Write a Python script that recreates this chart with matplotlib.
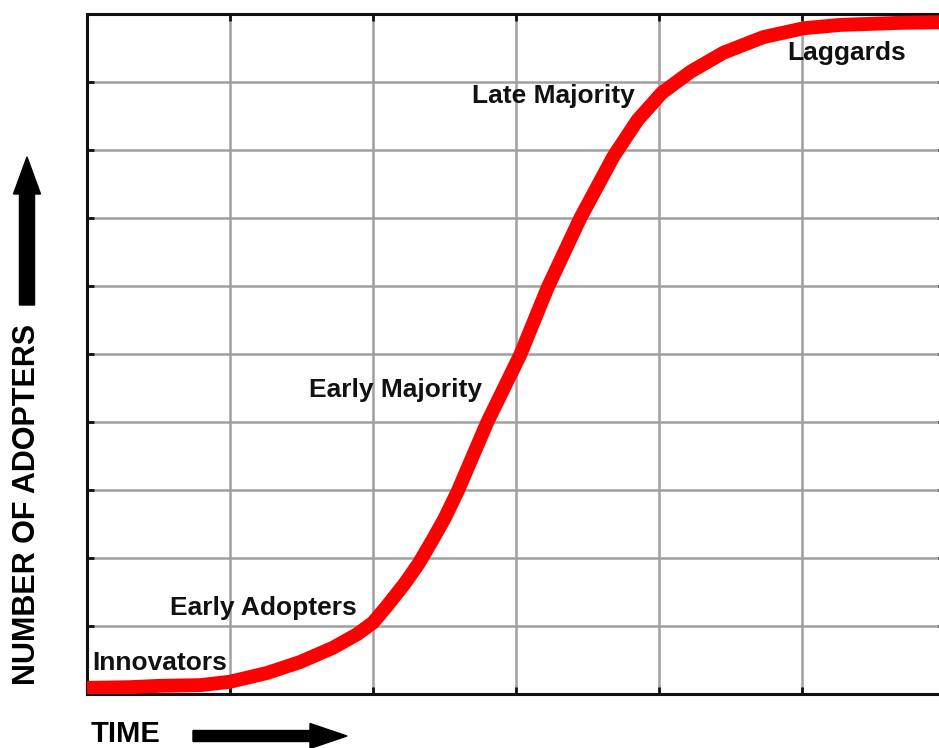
import matplotlib.pyplot as plt
from matplotlib.patches import FancyArrow

# adoption curve (x: 6 time units, y: 10 units)
time = [0.0, 0.30, 0.51, 0.79, 1.0, 1.26, 1.49, 1.72, 1.89, 2.0, 2.10, 2.22,
        2.32, 2.42, 2.50, 2.59, 2.80, 3.03, 3.22, 3.45, 3.68, 3.85, 4.02, 4.22,
        4.45, 4.73, 5.01, 5.27, 5.69, 6.0]
adopters = [0.09, 0.10, 0.12, 0.13, 0.18, 0.31, 0.47, 0.68, 0.88, 1.05, 1.30,
            1.62, 1.92, 2.28, 2.58, 2.97, 4.0, 4.99, 5.97, 7.0, 7.90, 8.44,
            8.84, 9.15, 9.43, 9.66, 9.79, 9.84, 9.87, 9.88]

groups = ['Innovators', 'Early Adopters', 'Early Majority', 'Late Majority', 'Laggards']
group_x = [0.035, 0.58, 1.555, 2.69, 4.895]
group_y = [0.35, 1.16, 4.37, 8.69, 9.32]

W, H = 939, 748
fig = plt.figure(figsize=(W / 100, H / 100), dpi=100)
ax = fig.add_axes([87 / W, (H - 694) / H, (945 - 87) / W, (694 - 14) / H])

ax.plot(time, adopters, color='#ff0000', lw=10, solid_capstyle='butt',
        solid_joinstyle='round', zorder=3)

ax.set_xlim(0, 6)
ax.set_ylim(0, 10)
ax.set_xticks(range(0, 7))
ax.set_yticks(range(0, 11))
ax.set_xticklabels([])
ax.set_yticklabels([])
ax.tick_params(direction='in', length=5, width=2, color='#111111',
               top=True, right=True)
ax.grid(color='#a0a0a0', lw=1.8)
for s in ax.spines.values():
    s.set_linewidth(2.2)
    s.set_color('#111111')

for name, gx, gy in zip(groups, group_x, group_y):
    ax.text(gx, gy, name, fontsize=19, fontweight='bold', family='Liberation Sans',
            color='#111111', ha='left', va='baseline', zorder=4)

# axis captions and arrows
fig.text(27 / W, 1 - 504 / H, 'NUMBER OF ADOPTERS', rotation=90, fontsize=22,
         fontweight='bold', family='Liberation Sans', ha='center', va='center')
fig.text(91 / W, 1 - 742 / H, 'TIME', fontsize=21, fontweight='bold',
         family='Liberation Sans', ha='left', va='baseline')

fig.patches.append(FancyArrow(27 / W, 1 - 305 / H, 0, 148 / H, width=12 / H,
                              head_width=27 / W, head_length=37 / H,
                              length_includes_head=True, color='black',
                              transform=fig.transFigure))
fig.patches.append(FancyArrow(193 / W, 1 - 736 / H, 154 / W, 0, width=11 / H,
                              head_width=25 / H, head_length=37 / W,
                              length_includes_head=True, color='black',
                              transform=fig.transFigure))

fig.savefig('out.png', dpi=100)
